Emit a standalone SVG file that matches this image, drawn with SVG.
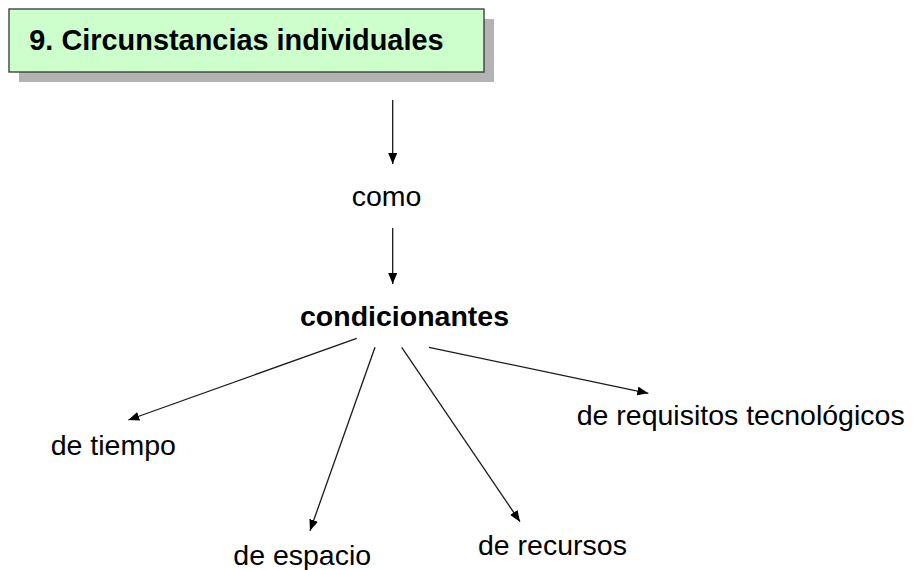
<svg xmlns="http://www.w3.org/2000/svg" width="913" height="570" viewBox="0 0 913 570">
<style>
.t{font-family:"Liberation Sans",Arial,sans-serif;font-size:28.5px;fill:#000}
.b{font-weight:bold}
.c{stroke:#1a1a1a;stroke-width:1.3;fill:none;marker-end:url(#ah)}
</style>
<defs>
<marker id="ah" markerUnits="userSpaceOnUse" markerWidth="12" markerHeight="10" refX="11" refY="4.5" orient="auto">
<path d="M0,0 L11,4.5 L0,9 z" fill="#000"/>
</marker>
</defs>
<rect width="913" height="570" fill="#fff"/>
<g id="title">
<rect x="19" y="19" width="475" height="63" fill="#b3b3b3"/>
<rect x="9" y="9" width="475" height="63" fill="#ccffcc" stroke="#333" stroke-width="1.3"/>
<text class="t b" x="29.3" y="50" style="font-size:28.9px">9. Circunstancias individuales</text>
</g>
<g id="como"><text class="t" x="351.7" y="206">como</text></g>
<g id="condicionantes"><text class="t b" x="300" y="325.7">condicionantes</text></g>
<g id="tiempo"><text class="t" x="50.7" y="455">de tiempo</text></g>
<g id="espacio"><text class="t" x="233.3" y="565">de espacio</text></g>
<g id="recursos"><text class="t" x="478" y="555">de recursos</text></g>
<g id="requisitos"><text class="t" x="576.7" y="425">de requisitos tecnológicos</text></g>
<g id="connectors">
<line class="c" x1="392.7" y1="100" x2="392.7" y2="164"/>
<line class="c" x1="392.7" y1="228" x2="392.7" y2="284"/>
<line class="c" x1="356.7" y1="338.3" x2="128.3" y2="420"/>
<line class="c" x1="375" y1="347.3" x2="310" y2="530.7"/>
<line class="c" x1="401.7" y1="347.3" x2="520" y2="521.7"/>
<line class="c" x1="429" y1="347.3" x2="648.3" y2="393.3"/>
</g>
</svg>
